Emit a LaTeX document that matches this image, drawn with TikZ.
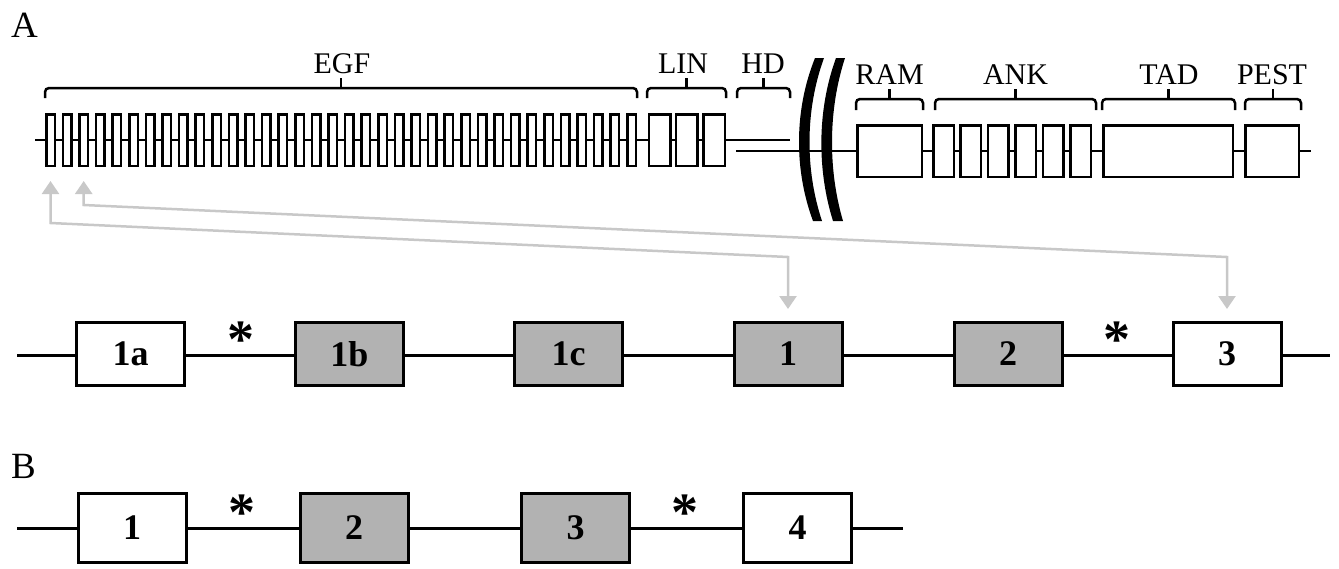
\documentclass[tikz,border=0pt]{standalone}
\usepackage{fontspec}
\setmainfont{Liberation Serif}
\usetikzlibrary{arrows.meta}
\definecolor{arrgray}{RGB}{200,200,200}
\definecolor{exgray}{RGB}{178,178,178}
\newcommand\dombrace[5]{%
  \draw[bracestyle] (#1,#3) |- (#2,#4) -- (#2,#3);
  \draw[bracestyle] ({(#1+#2)/2},#4) -- ({(#1+#2)/2},#5);}
\begin{document}
\begin{tikzpicture}[x=1pt,y=-1pt,
  dbox/.style={draw=black,fill=white,line width=2.5pt,inner sep=0pt,minimum height=51.5pt},
  exbox/.style={draw=black,line width=3pt,inner sep=0pt,minimum width=108pt,minimum height=63pt,font=\fontsize{36}{40}\selectfont\bfseries},
  exwhite/.style={exbox,fill=white},
  exshade/.style={exbox,fill=exgray},
  backbone/.style={line width=3pt},
  bracestyle/.style={line width=2.5pt,rounded corners=4pt},
  domlabel/.style={font=\fontsize{30}{32}\selectfont,anchor=base,inner sep=0pt},
  panel/.style={font=\fontsize{37}{40}\selectfont,anchor=base west,inner sep=0pt},
  grayarr/.style={draw=arrgray,line width=2.5pt,arrows={Triangle[width=17pt,length=13pt]-Triangle[width=17pt,length=13pt]}},
  asterisk/.style={font=\fontsize{54}{54}\selectfont\bfseries,inner sep=0pt}
]
\useasboundingbox (0,0) rectangle (1339,568);

% panel letters
\node[panel] (labA) at (11,37) {A};
\node[panel] (labB) at (11,478) {B};

% protein backbone
\coordinate (L0) at (35,140);
\coordinate (L1) at (790,140);
\draw[line width=2.5pt] (L0) -- (L1);
\coordinate (R0) at (736,151);
\coordinate (R1) at (1311,151);
\draw[line width=2.5pt] (R0) -- (R1);

% EGF repeats
\foreach \i in {1,...,36}
  \node[dbox,minimum width=8.5pt] (egf\i) at ({50.5+(\i-1)*16.6},140) {};
% LIN repeats
\foreach \i/\x in {1/659.5,2/686.5,3/714}
  \node[dbox,minimum width=21.5pt] (lin\i) at (\x,140) {};
% right domains
\node[dbox,minimum width=64.5pt] (ram) at (889.5,151) {};
\foreach \i in {1,...,6}
  \node[dbox,minimum width=20.5pt] (ank\i) at ({943.5+(\i-1)*27.4},151) {};
\node[dbox,minimum width=129.5pt] (tad) at (1168,151) {};
\node[dbox,minimum width=53.5pt] (pest) at (1272,151) {};

% break marks
\fill (815,58) .. controls (794,110) and (794,170) .. (813,221) -- (822,221) .. controls (805,170) and (805,110) .. (824,58) -- cycle;
\fill (836,58) .. controls (817,110) and (817,170) .. (833,221) -- (843,221) .. controls (828,170) and (828,110) .. (845,58) -- cycle;

% braces
\dombrace{45}{637}{98}{88}{78}
\dombrace{647}{726}{98}{88}{78}
\dombrace{737}{790}{98}{88}{78}
\dombrace{856}{923}{110}{99}{89}
\dombrace{935}{1096}{110}{99}{89}
\dombrace{1102}{1235}{110}{99}{89}
\dombrace{1245}{1301}{110}{99}{89}

% domain labels
\node[domlabel] (tEGF) at (342,73) {EGF};
\node[domlabel] (tLIN) at (683,73) {LIN};
\node[domlabel] (tHD) at (763,73) {HD};
\node[domlabel] (tRAM) at (889.5,84) {RAM};
\node[domlabel] (tANK) at (1015.5,84) {ANK};
\node[domlabel] (tTAD) at (1169,84) {TAD};
\node[domlabel] (tPEST) at (1272,84) {PEST};

% exon row A
\coordinate (A0) at (17,355);
\coordinate (A1) at (1330,355);
\draw[backbone] (A0) -- (A1);
\node[exwhite] (ex1a) at (130.5,354) {1a};
\node[exshade] (ex1b) at (349.5,354) {1b};
\node[exshade] (ex1c) at (568.5,354) {1c};
\node[exshade] (ex1) at (788,354) {1};
\node[exshade] (ex2) at (1008,354) {2};
\node[exwhite] (ex3) at (1227,354) {3};
\node[asterisk] (sA1) at (241,340) {*};
\node[asterisk] (sA2) at (1117,340) {*};

% exon row B
\coordinate (B0) at (17,528);
\coordinate (B1) at (903,528);
\draw[backbone] (B0) -- (B1);
\node[exwhite,minimum height=69pt] (b1) at (132,528) {1};
\node[exshade,minimum height=69pt] (b2) at (354,528) {2};
\node[exshade,minimum height=69pt] (b3) at (575.5,528) {3};
\node[exwhite,minimum height=69pt] (b4) at (797.5,528) {4};
\node[asterisk] (sB1) at (242,513) {*};
\node[asterisk] (sB2) at (685,513) {*};

% gray correspondence arrows
\draw[grayarr] ([yshift=-14pt]egf1.south) -- (egf1.south |- 0,223) -- (ex1.north |- 0,257) -- ([yshift=12pt]ex1.north);
\draw[grayarr] ([yshift=-14pt]egf3.south) -- (egf3.south |- 0,205) -- (ex3.north |- 0,257) -- ([yshift=12pt]ex3.north);
\end{tikzpicture}
\end{document}
